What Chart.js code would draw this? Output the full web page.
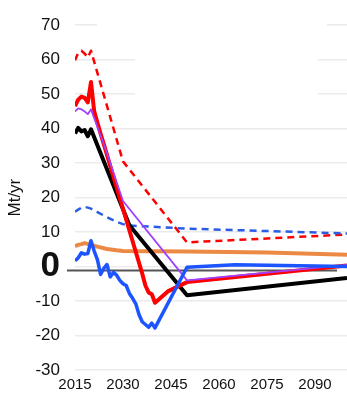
<!DOCTYPE html>
<html>
<head>
<meta charset="utf-8">
<script src="https://cdn.jsdelivr.net/npm/chart.js@4.4.1/dist/chart.umd.min.js"></script>
<style>
    html, body { margin: 0; padding: 0; background: #fff; }
</style>
</head>
<body>
<canvas id="chart" width="347" height="396"></canvas>
<script>
// Achsen
var tickYears = [2015, 2030, 2045, 2060, 2075, 2090];

// Reihen (Jahr / Mt pro Jahr)
var blueYears = [2015, 2016, 2017, 2018, 2019, 2020, 2021, 2022, 2023, 2024, 2025, 2026, 2027, 2028, 2029, 2030, 2031, 2032, 2033, 2034, 2035, 2036, 2037, 2038, 2039, 2040, 2050, 2065, 2080, 2100];
var blueValues = [1.7, 2.5, 4, 3.6, 3.8, 7.5, 4.5, 2, -2.3, -0.5, 0.6, -3, -1.7, -2.5, -4, -5, -5.5, -7.8, -9.2, -10.8, -13.9, -16, -16.8, -17.6, -16.4, -17.8, -0.2, 0.5, 0.3, 0];

var purpleYears = [2015, 2016, 2017, 2018, 2019, 2020, 2021, 2022, 2023, 2024, 2030, 2050, 2100];
var purpleValues = [45, 45.9, 45.6, 45, 44.2, 45.6, 43, 40.5, 38, 35.5, 19, -4, 0.5];

var redYears = [2015, 2016, 2017, 2018, 2019, 2020, 2021, 2023, 2024, 2036, 2037, 2038, 2039, 2040, 2044, 2050, 2100];
var redValues = [46.5, 48.4, 49.3, 48.9, 47.6, 53.5, 45, 38.5, 35.5, -2, -5.5, -7.5, -8, -10.5, -7.2, -4.5, 0.3];

var blackYears = [2015, 2016, 2017, 2018, 2019, 2020, 2021, 2032, 2050, 2100];
var blackValues = [38.6, 40.2, 39.2, 39.6, 37.8, 39.8, 37.5, 12, -8.3, -3.3];

var blueDashYears = [2015, 2016, 2017, 2018, 2019, 2020, 2022, 2025, 2028, 2030, 2032, 2050, 2100];
var blueDashValues = [15.9, 16.5, 17.1, 17.3, 17.1, 16.8, 15.8, 14.3, 13, 12.3, 11.9, 11, 9.6];

var redDashYears = [2015, 2016, 2017, 2018, 2019, 2020, 2030, 2050, 2100];
var redDashValues = [59.8, 62, 62.6, 61.8, 60.6, 62.6, 30.5, 7, 9.3];

var orangeYears = [2015, 2016, 2017, 2018, 2020, 2022, 2025, 2028, 2030, 2050, 2075, 2100];
var orangeValues = [5.9, 6.3, 6.5, 6.8, 6.3, 5.8, 5.1, 4.7, 4.5, 4.4, 4.1, 3.4];

var FONT = 'Liberation Sans, Arial, Helvetica, sans-serif';

function points(years, values) {
    return years.map(function (yr, i) {
        return { x: yr, y: values[i] };
    });
}

function line(years, values, color, width, dash) {
    return {
        data: points(years, values),
        borderColor: color,
        borderWidth: width,
        borderDash: dash || [],
        borderJoinStyle: 'round',
        pointRadius: 0,
        tension: 0,
        fill: false,
    };
}

// Weisse Flaeche oben (Legende im Original) und die versetzte Nulllinie.
var extras = {
    id: 'extras',
    beforeDatasetsDraw: function (chart) {
        var ctx = chart.ctx;
        var area = chart.chartArea;
        var y = chart.scales.y;
        ctx.save();
        ctx.fillStyle = '#fff';
        ctx.fillRect(97, area.top - 4, 230, y.getPixelForValue(65) - area.top + 4);
        ctx.fillRect(135, y.getPixelForValue(65), 183, y.getPixelForValue(45) - y.getPixelForValue(65));

        var zy = y.getPixelForValue(0) + 4;
        ctx.strokeStyle = '#555';
        ctx.lineWidth = 2;
        ctx.beginPath();
        ctx.moveTo(area.left - 8, zy);
        ctx.lineTo(area.right - 10, zy);
        ctx.stroke();
        ctx.restore();
    },
};

new Chart(document.getElementById('chart').getContext('2d'), {
    type: 'line',
    data: {
        // erster Datensatz liegt oben
        datasets: [
            line(blueYears, blueValues, '#1c54ff', 3.5),
            line(purpleYears, purpleValues, '#a040ff', 1.8),
            line(redYears, redValues, '#ff0000', 4),
            line(blackYears, blackValues, '#000000', 4),
            line(blueDashYears, blueDashValues, '#2a5ce6', 2.5, [7, 5]),
            line(redDashYears, redDashValues, '#ff0000', 2.5, [7, 5]),
            line(orangeYears, orangeValues, '#ec8a45', 4),
        ],
    },
    options: {
        responsive: false,
        animation: false,
        layout: { padding: { top: 16, right: 0, bottom: 0, left: 0 } },
        plugins: {
            legend: { display: false },
            tooltip: { enabled: false },
        },
        scales: {
            x: {
                type: 'linear',
                min: 2015,
                max: 2100,
                afterBuildTicks: function (scale) {
                    scale.ticks = tickYears.map(function (v) { return { value: v }; });
                },
                afterFit: function (scale) {
                    scale.height = 26;
                },
                grid: { display: false, drawTicks: false },
                border: { display: false },
                ticks: {
                    padding: 6,
                    maxRotation: 0,
                    autoSkip: false,
                    color: '#111',
                    font: { family: FONT, size: 15 },
                    callback: function (v) { return String(v); },
                },
            },
            y: {
                min: -30,
                max: 70,
                afterFit: function (scale) {
                    scale.width = 75;
                },
                grid: { color: '#ebebeb', lineWidth: 1.5, drawTicks: false },
                border: { display: false },
                title: {
                    display: true,
                    text: 'Mt/yr',
                    color: '#111',
                    padding: { top: 5, bottom: 0 },
                    font: { family: FONT, size: 17 },
                },
                ticks: {
                    stepSize: 10,
                    autoSkip: false,
                    padding: 15,
                    color: '#111',
                    font: function (ctx) {
                        if (ctx.tick && ctx.tick.value === 0) {
                            return { family: FONT, size: 35, weight: 'bold' };
                        }
                        return { family: FONT, size: 17 };
                    },
                    callback: function (v) { return String(v); },
                },
            },
        },
    },
    plugins: [extras],
});
</script>
</body>
</html>
